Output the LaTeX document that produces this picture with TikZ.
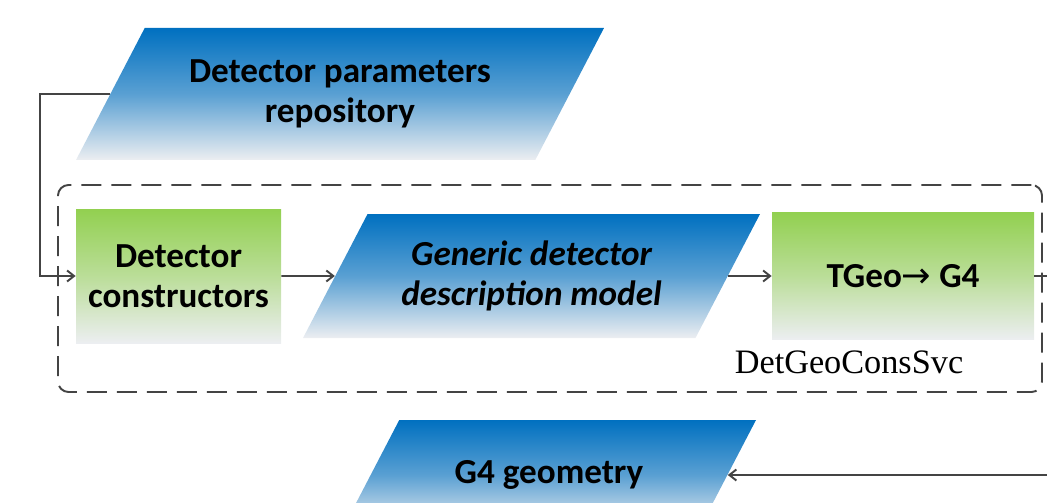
\documentclass[tikz,border=0pt]{standalone}
\usepackage{fontspec}
\setmainfont{Carlito}
\newfontfamily\svcfont{Liberation Serif}
\newfontfamily\arrowfont{DejaVu Sans}
\usetikzlibrary{arrows.meta,positioning,shapes.geometric}

\definecolor{parblue}{RGB}{0,112,192}
\definecolor{boxgreen}{RGB}{146,208,80}
\definecolor{fadegray}{RGB}{236,238,241}
\definecolor{linegray}{RGB}{68,68,68}

% fixed-height text block, so the slanted sides keep their angle
\newcommand{\partext}[3][6.2cm]{\parbox[c][#2][c]{#1}{\centering #3}}

\begin{document}
\begin{tikzpicture}[
			parnode/.style={
				trapezium,
				trapezium left angle=62.5,
				trapezium right angle=117.5,
				trapezium stretches body,
				top color=parblue,
				bottom color=fadegray,
				middle color=parblue!62!fadegray,
				inner sep=0pt,
				font=\bfseries\fontsize{20}{22.5}\selectfont
			},
			gnode/.style={
				rectangle,
				top color=boxgreen,
				bottom color=fadegray,
				middle color=boxgreen!55!fadegray,
				inner sep=0pt,
				align=center,
				font=\bfseries\fontsize{20}{22.5}\selectfont
			},
			svcframe/.style={
				rectangle,
				rounded corners=6pt,
				draw=linegray,
				line width=1.1pt,
				dash pattern=on 0.4cm off 0.2cm
			},
			svclabel/.style={inner sep=0pt,font=\svcfont\fontsize{19.5}{22}\selectfont},
			arrow/.style={-{Straight Barb[length=1.4mm,width=2.2mm]},line width=1.1pt,draw=linegray}
			]
			\useasboundingbox (0,0) rectangle (20.94,10.04);
			
			\node[svcframe, minimum width=19.68cm, minimum height=4.14cm] (svc) at (11.0,4.27) {};
			
			\node[parnode, minimum width=10.56cm] (repo) at (6.80,8.16) {\partext{2.64cm}{Detector parameters\\repository}};
			\node[gnode, minimum width=4.10cm, minimum height=2.68cm] (ctor) at (3.57,4.52) {Detector\\constructors};
			\node[parnode, minimum width=9.14cm, font=\bfseries\itshape\fontsize{20}{22.5}\selectfont] (gdd) at (10.63,4.52) {\partext{2.48cm}{Generic detector\\description model}};
			\node[gnode, minimum width=5.24cm, minimum height=2.54cm] (conv) at (18.06,4.52) {TGeo{\arrowfont\mdseries →} G4};
			\node[svclabel, below=0.22cm of conv.south, xshift=-1.08cm] (svcname) {DetGeoConsSvc};
			\node[parnode, minimum width=8.28cm] (g4) at (10.98,0.54) {\partext[4.5cm]{2.2cm}{G4 geometry}};
			
			\coordinate (lft) at (0.80,0);
			\coordinate (rgt) at (21.40,0);
			
			\draw[arrow] (repo.west) -- (repo.west -| lft) -- (lft |- ctor.west) -- (ctor.west);
			\draw[arrow] (ctor) -- (gdd);
			\draw[arrow] (gdd) -- (conv);
			\draw[arrow] (conv.east) -- (conv.east -| rgt) -- (rgt |- g4.east) -- (g4.east);
		\end{tikzpicture}
\end{document}
